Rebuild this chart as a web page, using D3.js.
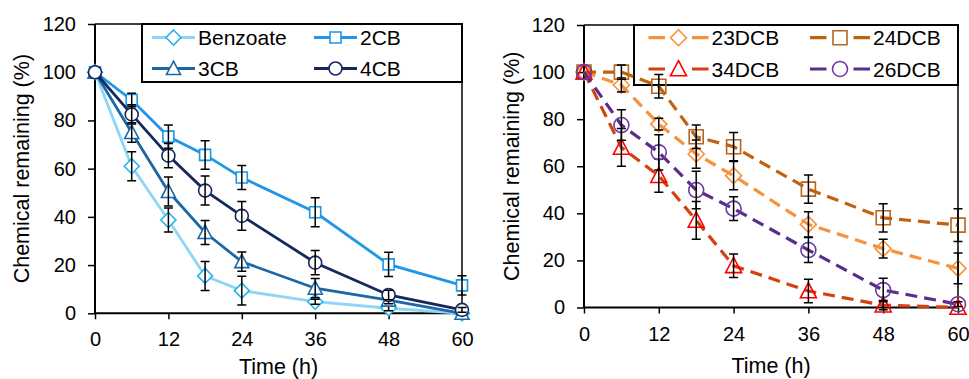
<!DOCTYPE html>
<html>
<head>
<meta charset="utf-8">
<script src="https://cdn.jsdelivr.net/npm/d3@7"></script>
<style>
  body { margin: 0; background: #fff; }
  svg { display: block; font-family: "Liberation Sans", Arial, sans-serif; }
</style>
</head>
<body>
<script>
// sampling times (h)
const hours = [0, 6, 12, 18, 24, 36, 48, 60];
const yTicks = [0, 20, 40, 60, 80, 100, 120];

// left panel: benzoate and mono-chlorobenzoates
const benzoate    = [100, 61, 38.7, 15.5, 9.4, 4.8, 2.1, 0];
const benzoateErr = [0, 6, 5, 6, 6, 1, 1, 0];
const cb2         = [100, 88.5, 73.3, 65.7, 56.3, 41.9, 20.3, 11.6];
const cb2Err      = [0, 2.8, 4.8, 5.9, 5, 6, 5, 4];
const cb3         = [100, 75, 50.5, 33.5, 21.4, 10.4, 5.5, 0];
const cb3Err      = [0, 4, 6, 5, 4, 4, 1.5, 0];
const cb4         = [100, 82.5, 65.4, 50.9, 40.4, 21, 7.6, 1.4];
const cb4Err      = [0, 4, 5, 6, 6, 5, 2, 1];

// right panel: dichlorobenzoates
const dcb23    = [100, 94.5, 77.9, 65.2, 56, 35.3, 25, 16.6];
const dcb23Err = [0, 3, 2.5, 6, 6, 5.4, 4, 6.5];
const dcb24    = [100, 100, 94, 72.5, 68.3, 50.3, 38.1, 35];
const dcb24Err = [0, 3, 5, 5, 6, 6, 6, 7];
const dcb34    = [100, 68, 56, 37, 17.7, 7, 1, 0];
const dcb34Err = [0, 8, 7, 8, 5, 5, 2, 0];
const dcb26    = [100, 77.5, 65.9, 49.9, 42, 24.4, 7.4, 1.4];
const dcb26Err = [0, 6.5, 7.5, 8, 5, 5.3, 5, 1];

const W = 969, H = 379;
const svg = d3.select("body").append("svg")
    .attr("width", W)
    .attr("height", H);

// marker outlines centred on 0,0
function markerPath(shape, s) {
    const p = d3.path();
    if (shape === "diamond") {
        p.moveTo(0, -s); p.lineTo(s, 0); p.lineTo(0, s); p.lineTo(-s, 0); p.closePath();
    } else if (shape === "square") {
        p.rect(-s, -s, 2 * s, 2 * s);
    } else if (shape === "triangle") {
        p.moveTo(0, -s * 1.05); p.lineTo(s, s * 0.85); p.lineTo(-s, s * 0.85); p.closePath();
    } else {
        p.arc(0, 0, s, 0, Math.PI * 2);
    }
    return p.toString();
}

function drawPanel(cfg) {
    const x = d3.scaleLinear().domain([0, 60]).range([cfg.left, cfg.right]);
    const y = d3.scaleLinear().domain([0, 120]).range([cfg.bottom, cfg.top]);
    const g = svg.append("g");

    // legend (sits behind the series)
    const lg = g.append("g");
    lg.append("rect")
        .attr("x", cfg.legend.x0)
        .attr("y", cfg.top)
        .attr("width", cfg.right - cfg.legend.x0)
        .attr("height", cfg.legend.y1 - cfg.top)
        .attr("fill", "#fff")
        .attr("stroke", "#000")
        .attr("stroke-width", 2);

    // plot frame (top and right)
    g.append("path")
        .attr("d", `M${cfg.left},${cfg.top}H${cfg.right}V${cfg.bottom}`)
        .attr("fill", "none")
        .attr("stroke", "#000")
        .attr("stroke-width", 1.5);

    // axes
    const yAxis = g.append("g")
        .attr("transform", `translate(${cfg.left},0)`)
        .call(d3.axisLeft(y).tickValues(yTicks).tickSize(7).tickPadding(12));
    const xAxis = g.append("g")
        .attr("transform", `translate(0,${cfg.bottom})`)
        .call(d3.axisBottom(x).tickValues(hours.filter(h => h % 12 === 0)).tickSize(6).tickPadding(13));
    [yAxis, xAxis].forEach(a => {
        a.select(".domain").attr("stroke", "#000").attr("stroke-width", 2);
        a.selectAll(".tick line").attr("stroke", "#000").attr("stroke-width", 1.5);
        a.selectAll(".tick text")
            .attr("fill", "#000")
            .style("font-family", "Liberation Sans, Arial, sans-serif")
            .style("font-size", "20px");
    });
    yAxis.select(".domain").attr("d", `M0,${cfg.bottom}V${cfg.top}`);
    xAxis.select(".domain").attr("d", `M${cfg.left},0H${cfg.right}`);

    g.append("text")
        .attr("transform", `translate(${cfg.yTitleX},${(cfg.top + cfg.bottom) / 2}) rotate(-90)`)
        .attr("text-anchor", "middle")
        .style("font-size", "21.5px")
        .text("Chemical remaining (%)");
    g.append("text")
        .attr("x", (cfg.left + cfg.right) / 2)
        .attr("y", cfg.xTitleY)
        .attr("text-anchor", "middle")
        .style("font-size", "21.5px")
        .text("Time (h)");

    const line = d3.line().x(d => x(d.t)).y(d => y(d.v));

    cfg.series.forEach(s => {
        const pts = hours.map((t, i) => ({ t, v: s.values[i], e: s.err[i] }));
        g.append("path")
            .datum(pts)
            .attr("d", line)
            .attr("fill", "none")
            .attr("stroke", s.color)
            .attr("stroke-width", cfg.lineWidth)
            .attr("stroke-dasharray", cfg.dash);

        g.selectAll(null)
            .data(pts)
            .enter()
            .append("path")
            .attr("transform", d => `translate(${x(d.t)},${y(d.v)})`)
            .attr("d", markerPath(s.shape, s.size))
            .attr("fill", cfg.markerFill)
            .attr("stroke", s.markerColor)
            .attr("stroke-width", 1.6);

        g.selectAll(null)
            .data(pts.filter(d => d.e > 0))
            .enter()
            .append("path")
            .attr("d", d => {
                const cx = x(d.t), y0 = y(d.v - d.e), y1 = y(d.v + d.e);
                return `M${cx},${y0}V${y1}M${cx - 4.5},${y0}H${cx + 4.5}M${cx - 4.5},${y1}H${cx + 4.5}`;
            })
            .attr("fill", "none")
            .attr("stroke", "#000")
            .attr("stroke-width", 1.5);
    });

    // legend entries
    cfg.series.forEach((s, i) => {
        const col = i % 2, row = Math.floor(i / 2);
        const cx = cfg.legend.markX[col];
        const cy = cfg.legend.rowY[row];
        const half = cfg.legend.half;
        if (cfg.dash) {
            lg.append("path")
                .attr("d", `M${cx - half},${cy}h${half * 0.55}M${cx + half * 0.45},${cy}h${half * 0.55}`)
                .attr("stroke", s.color)
                .attr("stroke-width", cfg.lineWidth);
        } else {
            lg.append("line")
                .attr("x1", cx - half).attr("x2", cx + half)
                .attr("y1", cy).attr("y2", cy)
                .attr("stroke", s.color)
                .attr("stroke-width", cfg.lineWidth);
        }
        lg.append("path")
            .attr("transform", `translate(${cx},${cy})`)
            .attr("d", markerPath(s.shape, s.size))
            .attr("fill", cfg.markerFill)
            .attr("stroke", s.markerColor)
            .attr("stroke-width", 1.6);
        lg.append("text")
            .attr("x", cx + half + 3)
            .attr("y", cy)
            .attr("dy", "0.36em")
            .style("font-size", "21px")
            .text(s.name);
    });
}

drawPanel({
    left: 95, right: 462, top: 24, bottom: 313.3,
    yTitleX: 29, xTitleY: 374,
    lineWidth: 2.8, dash: null, markerFill: "#fff",
    legend: { x0: 142, y1: 82, rowY: [37.5, 68.5], markX: [173.5, 335.5], half: 21.5 },
    series: [
        { name: "Benzoate", values: benzoate, err: benzoateErr, color: "#8dd6f6", markerColor: "#22b4ec", shape: "diamond", size: 7.5 },
        { name: "2CB", values: cb2, err: cb2Err, color: "#1f96e6", markerColor: "#1f96e6", shape: "square", size: 5.5 },
        { name: "3CB", values: cb3, err: cb3Err, color: "#1c68a6", markerColor: "#1c68a6", shape: "triangle", size: 7 },
        { name: "4CB", values: cb4, err: cb4Err, color: "#15285e", markerColor: "#15285e", shape: "circle", size: 6.5 }
    ]
});

drawPanel({
    left: 584, right: 958, top: 25, bottom: 307.5,
    yTitleX: 518.5, xTitleY: 373,
    lineWidth: 3.2, dash: "12,7", markerFill: "none",
    legend: { x0: 634, y1: 85, rowY: [37.7, 69], markX: [678.5, 840], half: 30 },
    series: [
        { name: "23DCB", values: dcb23, err: dcb23Err, color: "#f7923a", markerColor: "#f7923a", shape: "diamond", size: 8 },
        { name: "24DCB", values: dcb24, err: dcb24Err, color: "#c0620f", markerColor: "#b8651f", shape: "square", size: 7 },
        { name: "34DCB", values: dcb34, err: dcb34Err, color: "#d6400e", markerColor: "#ff0000", shape: "triangle", size: 8 },
        { name: "26DCB", values: dcb26, err: dcb26Err, color: "#5a2c8c", markerColor: "#6b3aa3", shape: "circle", size: 7.5 }
    ]
});
</script>
</body>
</html>
